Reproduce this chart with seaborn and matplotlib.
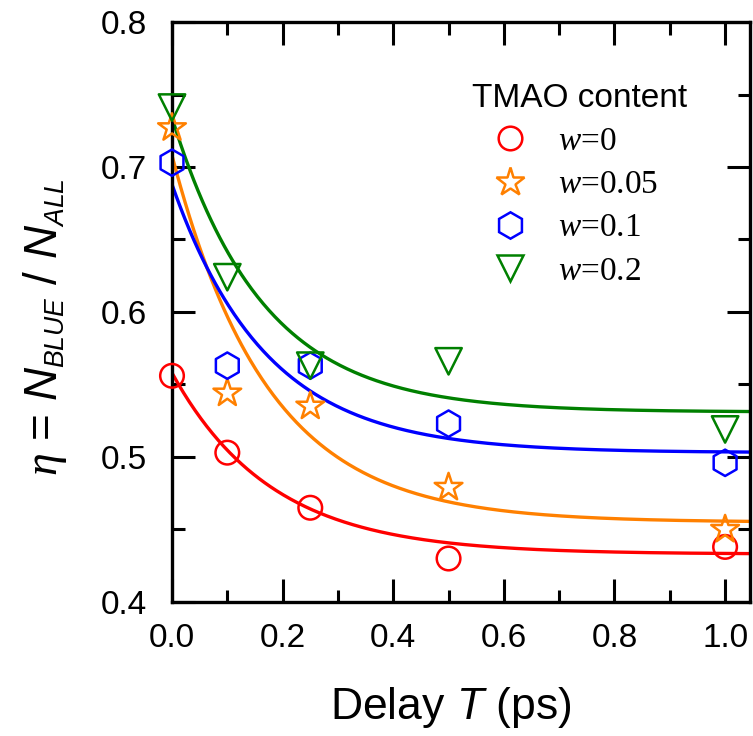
import numpy as np
import matplotlib
matplotlib.use("Agg")
import matplotlib.pyplot as plt
import matplotlib._mathtext as mathtext_internals
from matplotlib.lines import Line2D
from matplotlib.ticker import MultipleLocator, FormatStrFormatter
import seaborn as sns

# Measured blue-fraction eta versus pump-probe delay T (ps)
delay_ps = [0.0, 0.1, 0.25, 0.5, 1.0]
tmao_w = ["0", "0.05", "0.1", "0.2"]
eta_w0 = [0.556, 0.503, 0.465, 0.430, 0.438]
eta_w005 = [0.727, 0.544, 0.535, 0.479, 0.450]
eta_w01 = [0.703, 0.563, 0.563, 0.523, 0.496]
eta_w02 = [0.741, 0.624, 0.563, 0.566, 0.519]
eta_series = [eta_w0, eta_w005, eta_w01, eta_w02]

# Single-exponential fits: eta(T) = offset + amplitude * exp(-T / tau)
fit_offset = [0.433, 0.455, 0.503, 0.531]
fit_amplitude = [0.125, 0.253, 0.185, 0.203]
fit_tau = [0.18, 0.173, 0.17, 0.165]

colors = ["#FF0000", "#FF8000", "#0000FF", "#008000"]
markers = ["o", "*", "h", "v"]
marker_pts = [17, 21, 19, 19]

sns.set_style("ticks")
plt.rcParams["font.family"] = ["Liberation Sans", "DejaVu Sans"]
plt.rcParams["text.color"] = "black"
plt.rcParams["axes.labelcolor"] = "black"
plt.rcParams["xtick.color"] = "black"
plt.rcParams["ytick.color"] = "black"
plt.rcParams["mathtext.fontset"] = "custom"
plt.rcParams["mathtext.rm"] = "Liberation Sans"
plt.rcParams["mathtext.it"] = "Liberation Sans:italic"
plt.rcParams["mathtext.cal"] = "Liberation Serif:italic"
# smaller subscripts for N_BLUE / N_ALL
mathtext_internals.SHRINK_FACTOR = 0.58

fig = plt.figure(figsize=(7.53, 7.36), dpi=100)
ax = fig.add_axes([172 / 753, 1 - 602 / 736, 578 / 753, 580 / 736])

x_max = 1.045
t_fine = np.linspace(0.0, x_max, 400)
for off, amp, tau, c in zip(fit_offset, fit_amplitude, fit_tau, colors):
    sns.lineplot(x=t_fine, y=off + amp * np.exp(-t_fine / tau), color=c,
                 linewidth=2.4, ax=ax, legend=False, zorder=2)

for eta, c, m, ms in zip(eta_series, colors, markers, marker_pts):
    sns.scatterplot(x=delay_ps, y=eta, marker=m, s=ms ** 2, facecolor="none",
                    edgecolor=c, linewidth=1.8, ax=ax, clip_on=False,
                    zorder=3, legend=False)

ax.set_xlim(0.0, x_max)
ax.set_ylim(0.4, 0.8)
ax.xaxis.set_major_locator(MultipleLocator(0.2))
ax.xaxis.set_minor_locator(MultipleLocator(0.1))
ax.yaxis.set_major_locator(MultipleLocator(0.1))
ax.yaxis.set_minor_locator(MultipleLocator(0.05))
ax.xaxis.set_major_formatter(FormatStrFormatter("%.1f"))
ax.yaxis.set_major_formatter(FormatStrFormatter("%.1f"))
ax.tick_params(which="both", direction="in", top=True, right=True,
               width=2.2, color="black", labelsize=24, labelcolor="black")
ax.tick_params(which="major", length=16.5)
ax.tick_params(which="minor", length=9)
ax.tick_params(axis="x", which="major", pad=15)
ax.tick_params(axis="y", which="major", pad=18)
for sp in ax.spines.values():
    sp.set_visible(True)
    sp.set_linewidth(2.4)
    sp.set_color("black")

ax.set_xlabel(r"Delay $T$ (ps)", fontsize=32, color="black")
ax.xaxis.set_label_coords(0.483, -0.143)
ax.set_ylabel(r"$\mathcal{\eta}$ = $N_{BLUE}$ / $N_{ALL}$", fontsize=33,
              color="black")
ax.yaxis.set_label_coords(-0.178, 0.474)

handles = [Line2D([], [], linestyle="none", marker=m, markersize=ms,
                  markerfacecolor="none", markeredgecolor=c,
                  markeredgewidth=1.8)
           for c, m, ms in zip(colors, markers, marker_pts)]
labels = [rf"$\mathcal{{w}}$={w}" for w in tmao_w]
ax.legend(handles, labels, title="TMAO content", loc="upper left",
          bbox_to_anchor=(0.496, 0.918), frameon=False,
          prop={"family": "Liberation Serif", "size": 24},
          title_fontproperties={"family": "Liberation Sans", "size": 24},
          alignment="left", handlelength=2.29, handletextpad=0.3,
          labelspacing=0.38, borderaxespad=0)

fig.savefig("out.png", dpi=100)
